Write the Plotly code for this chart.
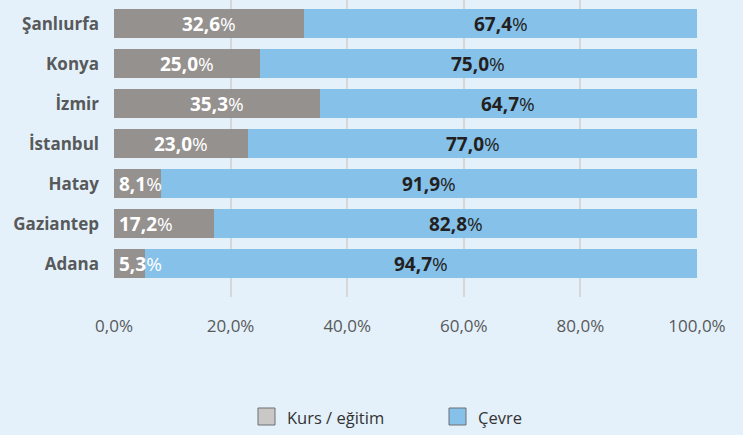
import plotly.graph_objects as go

# Provinces, bottom to top
provinces = ["Adana", "Gaziantep", "Hatay", "İstanbul", "İzmir", "Konya", "Şanlıurfa"]
kurs_egitim = [5.3, 17.2, 8.1, 23.0, 35.3, 25.0, 32.6]
cevre = [94.7, 82.8, 91.9, 77.0, 64.7, 75.0, 67.4]
x_ticks = [0, 20, 40, 60, 80, 100]
x_tick_labels = ["0,0%", "20,0%", "40,0%", "60,0%", "80,0%", "100,0%"]
series_names = ["Kurs / eğitim", "Çevre"]

BG = "#e4f1fa"
GRAY = "#95918f"
BLUE = "#86c1ea"
FONT = "Open Sans"


def tr_num(v):
    return f"{v:.1f}".replace(".", ",")


fig = go.Figure()
fig.add_trace(go.Bar(y=provinces, x=kurs_egitim, orientation="h", name=series_names[0],
                     marker=dict(color=GRAY, line=dict(width=0)), showlegend=False,
                     hoverinfo="x+y"))
fig.add_trace(go.Bar(y=provinces, x=cevre, orientation="h", name=series_names[1],
                     marker=dict(color=BLUE, line=dict(width=0)), showlegend=False,
                     hoverinfo="x+y"))

annotations = []
for p, g, b in zip(provinces, kurs_egitim, cevre):
    # grey segment label: centred, or pinned to the left edge for narrow segments
    if g < 20:
        gx, ganchor = 0.5, "left"
    else:
        gx, ganchor = g / 2, "center"
    annotations.append(dict(x=gx, y=p, xref="x", yref="y", xanchor=ganchor,
                            text=f"<b>{tr_num(g)}</b>%", showarrow=False,
                            font=dict(family=FONT, size=19, color="white")))
    annotations.append(dict(x=g + b / 2, y=p, xref="x", yref="y", xanchor="center",
                            text=f"<b>{tr_num(b)}</b>%", showarrow=False,
                            font=dict(family=FONT, size=19, color="#231f20")))

# hand-drawn legend
legend_items = [(series_names[0], "#cac8c6", 258), (series_names[1], BLUE, 449)]
shapes = []
for name, col, px in legend_items:
    x0 = (px - 114) / 583
    x1 = (px + 17 - 114) / 583
    shapes.append(dict(type="rect", xref="paper", yref="paper",
                       x0=x0, x1=x1, y0=(297 - 425) / 297, y1=(297 - 408) / 297,
                       fillcolor=col, line=dict(color="#6d6e71", width=1)))
    annotations.append(dict(x=(px + 27 - 114) / 583, y=(297 - 417) / 297,
                            xref="paper", yref="paper", xanchor="left", yanchor="middle",
                            text=name, showarrow=False,
                            font=dict(family=FONT, size=16.5, color="#333333")))

# white strip at the right edge of the page
shapes.append(dict(type="rect", xref="paper", yref="paper",
                   x0=(743 - 114) / 583, x1=1.3, y0=-1, y1=1.2,
                   fillcolor="white", line=dict(width=0), layer="below"))

fig.update_layout(
    width=749, height=435,
    margin=dict(l=114, r=52, t=0, b=138),
    paper_bgcolor=BG, plot_bgcolor=BG,
    barmode="stack", bargap=0.275,
    annotations=annotations, shapes=shapes,
    xaxis=dict(range=[0, 100], tickvals=x_ticks, ticktext=x_tick_labels,
               showgrid=True, gridcolor="#d5d7d9", gridwidth=2, zeroline=False,
               showline=False, ticks="", ticklabelstandoff=17,
               tickfont=dict(family=FONT, size=17, color="#58595b")),
    yaxis=dict(type="category", categoryorder="array", categoryarray=provinces,
               range=[-0.83, 6.6], showgrid=False, zeroline=False, showline=False,
               ticks="", ticklabelstandoff=14,
               tickfont=dict(family=FONT, size=17, color="#58595b", weight="bold")),
)

fig.write_html("out.html")
